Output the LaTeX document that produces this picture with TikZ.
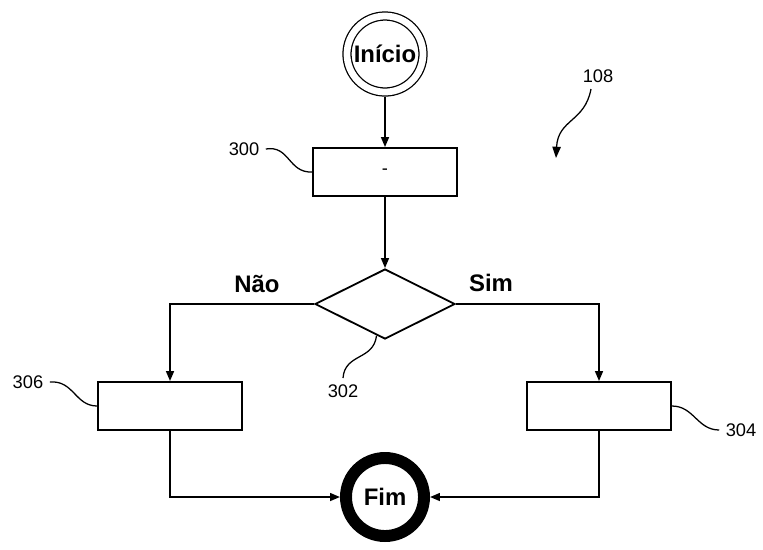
\documentclass[tikz,border=0pt]{standalone}
\usepackage{fontspec}
\setmainfont{Liberation Sans}
\usetikzlibrary{positioning, arrows.meta, shapes.geometric}

\begin{document}
\begin{tikzpicture}[
      x=0.025cm, y=-0.025cm,
      line width=1.3pt,
      >={Triangle[length=7pt,width=5.5pt]},
      font=\fontsize{13}{15}\selectfont,
      procBox/.style={
        draw, rectangle, minimum width=3.6cm, minimum height=1.2cm, inner sep=0pt
      },
      decisionBox/.style={
        draw, diamond, minimum width=3.5cm, minimum height=1.75cm, inner sep=0pt
      },
      startNode/.style={
        draw, circle, minimum size=1.9cm, inner sep=0pt, line width=0.9pt,
        double, double distance=4.8pt, outer sep=3.3pt,
        font=\fontsize{17}{19}\selectfont\bfseries
      },
      endNode/.style={
        draw, circle, minimum size=1.95cm, inner sep=0pt, line width=8.5pt,
        font=\fontsize{17}{19}\selectfont\bfseries
      },
      branchLabel/.style={font=\fontsize{17}{19}\selectfont\bfseries},
      refLabel/.style={inner sep=4pt},
      leader/.style={line width=0.9pt}
    ]
      \useasboundingbox (0,0) rectangle (763,549);

      % flow nodes
      \node[startNode]    (start) at (385,54)  {Início};
      \node[procBox]      (s300)  at (385,172) {-};
      \node[decisionBox]  (d302)  at (385,304) {};
      \node[procBox]      (s306)  at (170,406) {};
      \node[procBox]      (s304)  at (599,406) {};
      \node[endNode]      (stop)  at (385,497) {Fim};

      % branch labels
      \node[branchLabel]  (no)    at (257,284) {Não};
      \node[branchLabel]  (yes)   at (491,283) {Sim};

      % reference numerals
      \node[refLabel]     (l300)  at (244,149) {300};
      \node[refLabel]     (l302)  at (343,391) {302};
      \node[refLabel]     (l306)  at (28,382)  {306};
      \node[refLabel]     (l304)  at (741,430) {304};
      \node[refLabel]     (l108)  at (598,76)  {108};
      \coordinate         (p108)  at (556,158);

      % flow
      \draw[->] (start) -- (s300);
      \draw[->] (s300) -- (d302);
      \draw[->] (d302.west) -| (s306.north);
      \draw[->] (d302.east) -| (s304.north);
      \draw[->] (s306.south) |- (stop.west);
      \draw[->] (s304.south) |- (stop.east);

      % leaders
      \draw[leader] (l300.east) .. controls +(24,-4) and +(-24,1) .. (s300.west);
      \draw[leader] (l302.north) .. controls +(2,-25) and +(-3,25) .. (d302.255);
      \draw[leader] (l306.east) .. controls +(24,-2) and +(-22,0) .. (s306.west);
      \draw[leader] (s304.east) .. controls +(22,0) and +(-22,0) .. (l304.west);
      \draw[leader, ->, >={Triangle[length=8pt,width=6pt]}]
        ([xshift=-5pt]l108.south) .. controls +(-6,33) and +(2,-39) .. (p108);
    \end{tikzpicture}
\end{document}
